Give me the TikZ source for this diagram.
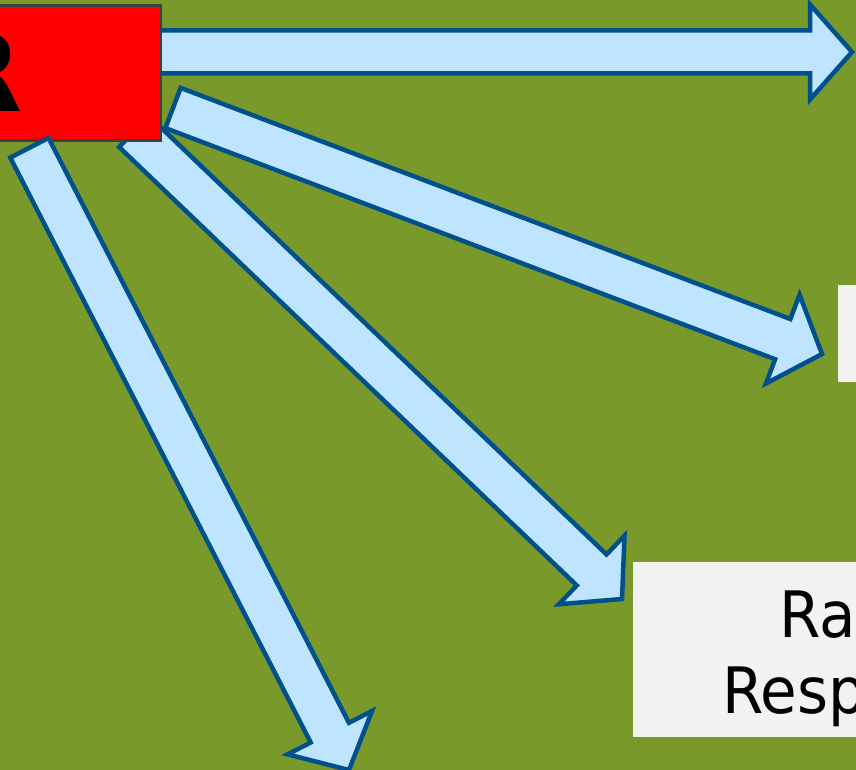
\documentclass[tikz,border=0pt]{standalone}
\usepackage{fontspec}
\newfontfamily\boxfont[FakeStretch=0.93]{DejaVu Sans}
\newfontfamily\srcfont{DejaVu Sans}
\usetikzlibrary{calc, positioning}

\definecolor{slidegreen}{RGB}{121,154,42}
\definecolor{arrowfill}{RGB}{190,228,255}
\definecolor{arrowline}{RGB}{0,80,140}
\definecolor{boxgray}{RGB}{242,242,242}
\definecolor{boxedge}{RGB}{64,64,64}

\tikzset{
  blockarrow/.style={fill=arrowfill, draw=arrowline, line width=4.5pt},
  srcbox/.style={fill=red, draw=boxedge, line width=2.5pt, inner sep=0pt},
  targetbox/.style={fill=boxgray, inner sep=0pt, anchor=north west},
  boxtext/.style={inner sep=0pt, anchor=base west, font=\boxfont\fontsize{64}{76}\selectfont},
}

% block arrow from #1 to tip #2
\newcommand{\shaftw}{21.5pt}
\newcommand{\headw}{47.5pt}
\newcommand{\headlen}{42pt}
\newcommand{\blockarrow}[2]{%
  \coordinate (hb) at ($(#2)!\headlen!(#1)$);
  \draw[blockarrow]
    ($(#1)!\shaftw!90:(#2)$) -- ($(hb)!\shaftw!-90:(#1)$) --
    ($(hb)!\headw!-90:(#1)$) -- (#2) --
    ($(hb)!\headw!90:(#1)$) -- ($(hb)!\shaftw!90:(#1)$) --
    ($(#1)!\shaftw!-90:(#2)$) -- cycle;
}

\begin{document}
\begin{tikzpicture}[x=1pt, y=-1pt]
    \useasboundingbox (0,0) rectangle (856,770);
    \clip (0,0) rectangle (856,770);
    \fill[slidegreen] (0,0) rectangle (856,770);
    % Target boxes
    \node[targetbox, minimum width=60pt, minimum height=97pt] (upper) at (838,285) {};
    \node[targetbox, minimum width=260pt, minimum height=175pt] (lower) at (633,562) {};
    \node[boxtext] (ra) at (779,637) {Ra};
    \node[boxtext] (resp) at (722,713) {Resp};
    % Arrow ends
    \coordinate (a1s) at (140,52);
    \coordinate (a1t) at (852,52);
    \coordinate (a2s) at (173,108);
    \coordinate (a2t) at (822,354);
    \coordinate (a3s) at (134,131.5);
    \coordinate (a3t) at (622,599);
    \coordinate (a4s) at (29.4,147.8);
    \coordinate (a4t) at (349,770);
    % Arrows under the box
    \blockarrow{a1s}{a1t}
    \blockarrow{a3s}{a3t}
    % Source box
    \node[srcbox, anchor=north east, minimum width=240pt, minimum height=135pt] (src) at (162,4.5) {};
    \node[inner sep=0pt, anchor=base east, font=\srcfont\bfseries\fontsize{108}{108}\selectfont] (srclabel) at (23,112) {R};
    % Arrows over the box
    \blockarrow{a2s}{a2t}
    \blockarrow{a4s}{a4t}
\end{tikzpicture}
\end{document}
